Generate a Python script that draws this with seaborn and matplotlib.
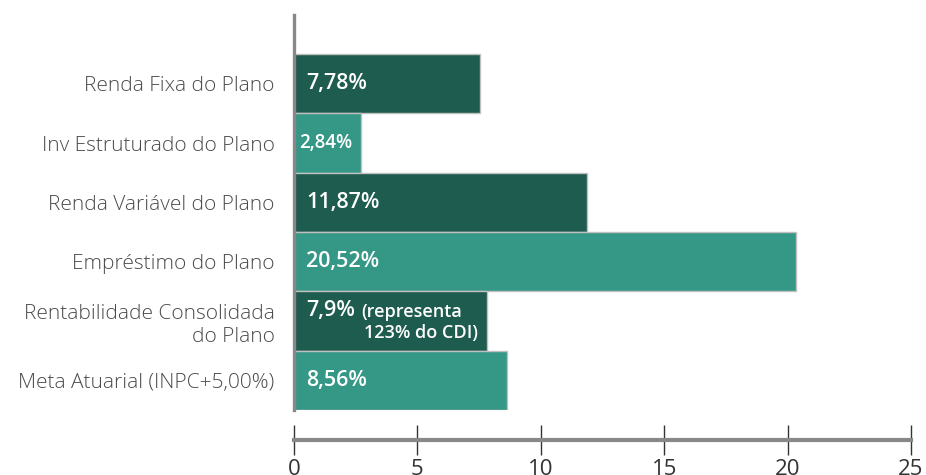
import matplotlib
matplotlib.use("Agg")
import matplotlib.pyplot as plt
import seaborn as sns
import pandas as pd

categories = ["Renda Fixa do Plano", "Inv Estruturado do Plano", "Renda Variável do Plano",
              "Empréstimo do Plano", "Rentabilidade Consolidada\ndo Plano", "Meta Atuarial (INPC+5,00%)"]
values = [7.54, 2.71, 11.87, 20.34, 7.82, 8.63]
bar_labels = ["7,78%", "2,84%", "11,87%", "20,52%", "7,9%", "8,56%"]
xticks = [0, 5, 10, 15, 20, 25]

dark = "#1E5C50"
light = "#359785"
colors = [dark, light, dark, light, dark, light]

sns.set_theme(style="white")
plt.rcParams['font.family'] = ['Open Sans', 'DejaVu Sans']

df = pd.DataFrame({"cat": categories, "val": values})
fig = plt.figure(figsize=(9.26, 4.75), dpi=100)
ax = fig.add_axes([294/926, 1-410/475, (911-294)/926, (410-15)/475])
sns.barplot(data=df, x="val", y="cat", hue="cat", palette=colors, width=1.0, saturation=1,
            edgecolor="#c0c0c0", linewidth=1, legend=False, ax=ax, orient="h")

ax.set_xlim(0, 25)
ax.set_ylim(5.5, -1.16)
ax.set_xlabel("")
ax.set_ylabel("")
ax.tick_params(axis="y", left=False, length=0, pad=14, labelsize=15, labelcolor="#4a4a4a")
ax.tick_params(axis="x", bottom=True, direction="inout", length=22, width=1, color="#333333",
               pad=3, labelsize=16, labelcolor="#333333")
ax.set_xticks(xticks)
ax.set_xticklabels([str(t) for t in xticks], fontfamily="Liberation Sans", fontsize=16, color="#333333")
for lbl in ax.get_yticklabels():
    lbl.set_fontweight("light")

for s in ["top", "right"]:
    ax.spines[s].set_visible(False)
ax.spines["left"].set_color("#888888")
ax.spines["left"].set_linewidth(2.4)
ax.spines["bottom"].set_color("#888888")
ax.spines["bottom"].set_linewidth(3)
ax.spines["bottom"].set_position(("outward", 21.6))

for i, lab in enumerate(bar_labels):
    if i == 4:
        ax.text(0.5, i - 0.17, lab, color="white", fontsize=15.5, fontweight="semibold", va="center", ha="left")
        ax.text(2.72, i - 0.15, "(representa", color="white", fontsize=13, fontweight="semibold", va="center", ha="left")
        ax.text(7.45, i + 0.2, "123% do CDI)", color="white", fontsize=13, fontweight="semibold", va="center", ha="right")
    elif i == 1:
        ax.text(0.2, i, lab, color="white", fontsize=13.5, fontweight="semibold", va="center", ha="left")
    else:
        ax.text(0.5, i, lab, color="white", fontsize=15.5, fontweight="semibold", va="center", ha="left")

fig.savefig("out.png", dpi=100)
